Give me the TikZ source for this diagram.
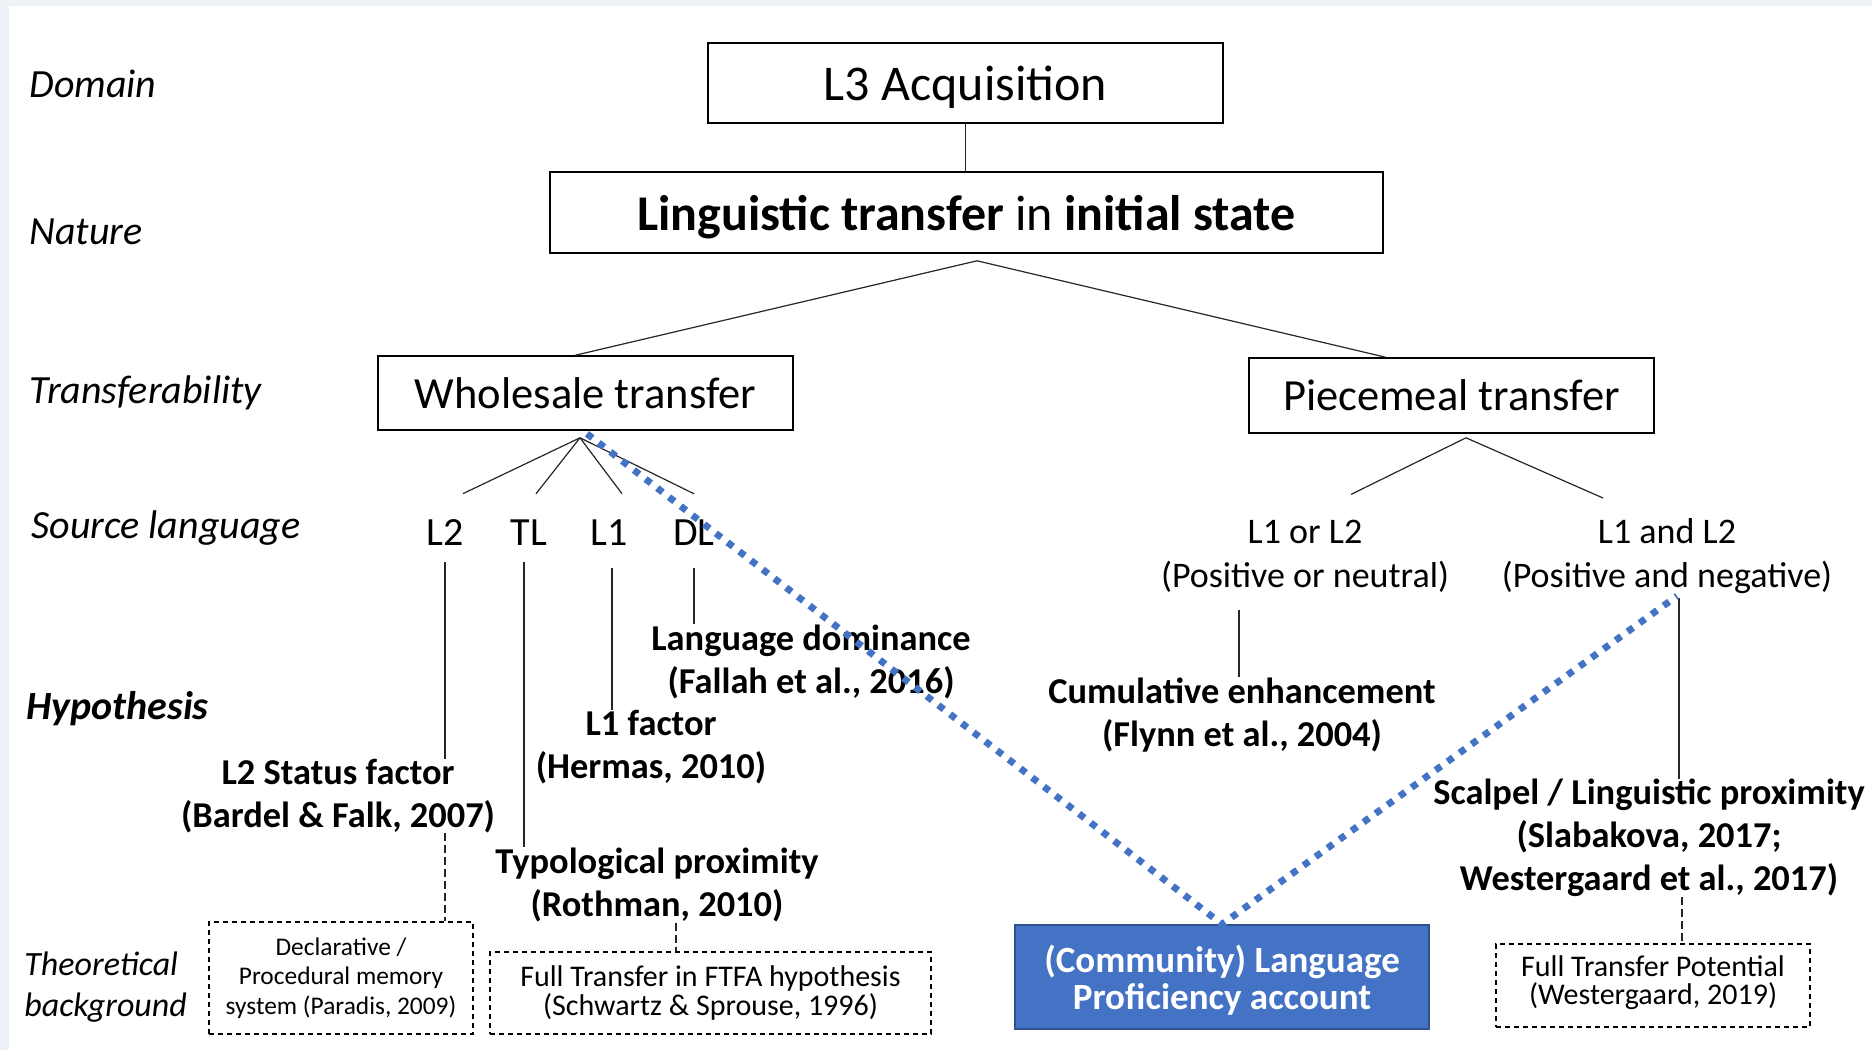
\documentclass[tikz,border=0pt]{standalone}
\usepackage{fontspec}
\setmainfont{Carlito}
\usetikzlibrary{calc}
\definecolor{accblue}{HTML}{4472C4}
\definecolor{accedge}{HTML}{2F528F}
\definecolor{pagegray}{HTML}{EEF2F7}
\tikzset{
  box/.style={draw, line width=0.8pt, inner sep=0pt},
  dbox/.style={draw, line width=0.7pt, dash pattern=on 2.5pt off 2pt, align=center, inner sep=0pt},
  rowlab/.style={anchor=west, inner sep=0pt, align=left, font=\fontsize{20}{20}\selectfont\itshape},
  hyp/.style={align=center, inner sep=0pt, font=\fontsize{18.2}{21.6}\selectfont\bfseries},
  src/.style={inner sep=0pt, font=\fontsize{20}{24}\selectfont},
  pair/.style={align=center, inner sep=0pt, font=\fontsize{18}{22}\selectfont},
  link/.style={line width=0.6pt, black!85},
  dlink/.style={link, dash pattern=on 4pt off 2pt},
  dotlink/.style={accblue, line width=3.4pt, dash pattern=on 3.4pt off 4pt}
}
\begin{document}
\begin{tikzpicture}[x=0.5pt,y=-0.5pt]
  \useasboundingbox (0,0) rectangle (1872,1050);
  \fill[pagegray] (0,0) rectangle (1872,1050);
  \fill[white] (9,6) rectangle (1872,1050);

  % row labels
  \node[rowlab] (rdom) at (29,84) {Domain};
  \node[rowlab] (rnat) at (29,232) {Nature};
  \node[rowlab] (rtra) at (29,393) {Transferability};
  \node[rowlab] (rsrc) at (31,528) {Source language};
  \node[rowlab, font=\fontsize{20}{20}\selectfont\bfseries\itshape] (rhyp) at (26,709) {Hypothesis};
  \node[rowlab, font=\fontsize{17}{20.3}\selectfont\itshape] (rthe) at (24,987) {Theoretical\\background};

  % boxes
  \node[box, text depth=0pt, minimum width=257.5pt, minimum height=40pt, font=\fontsize{25}{30}\selectfont] (acq) at (965.5,83) {L3 Acquisition};
  \node[box, text depth=0pt, minimum width=416.5pt, minimum height=40.5pt, font=\fontsize{25}{30}\selectfont] (nat) at (966.5,212.5) {\textbf{Linguistic transfer} in \textbf{initial state}};
  \node[box, minimum width=207.5pt, minimum height=37pt, font=\fontsize{22.25}{26}\selectfont] (whole) at (585.5,393) {Wholesale transfer};
  \node[box, minimum width=202.5pt, minimum height=37.5pt, font=\fontsize{22.25}{26}\selectfont] (piece) at (1451.5,395.5) {Piecemeal transfer};

  % source languages
  \node[src] (l2) at (445,533) {L2};
  \node[src] (tl) at (529,533) {TL};
  \node[src] (l1) at (609,533) {L1};
  \node[src] (dl) at (694,533) {DL};
  \node[pair] (pn) at (1305,556) {L1 or L2\\(Positive or neutral)};
  \node[pair] (pa) at (1667,556) {L1 and L2\\(Positive and negative)};

  % hypotheses
  \node[hyp] (dom) at (811,662) {Language dominance\\(Fallah et al., 2016)};
  \node[hyp] (l1h) at (651,747) {L1 factor\\(Hermas, 2010)};
  \node[hyp] (l2h) at (338,796) {L2 Status factor\\(Bardel \& Falk, 2007)};
  \node[hyp] (typ) at (657,885) {Typological proximity\\(Rothman, 2010)};
  \node[hyp] (cum) at (1242,715) {Cumulative enhancement\\(Flynn et al., 2004)};
  \node[hyp] (scal) at (1649,838) {Scalpel / Linguistic proximity\\(Slabakova, 2017;\\Westergaard et al., 2017)};

  % theoretical background
  \node[dbox, minimum width=132pt, minimum height=56pt, font=\fontsize{12.7}{14.7}\selectfont] (decl) at (341,978) {Declarative /\\Procedural memory\\system (Paradis, 2009)};
  \node[dbox, minimum width=220.5pt, minimum height=41pt, font=\fontsize{15}{14.5}\selectfont] (ftfa) at (710.5,993) {Full Transfer in FTFA hypothesis\\(Schwartz \& Sprouse, 1996)};
  \node[dbox, text depth=5pt, minimum width=157pt, minimum height=41.5pt, font=\fontsize{15}{14}\selectfont] (ftp) at (1653,985.5) {Full Transfer Potential\\(Westergaard, 2019)};
  \node[draw=accedge, fill=accblue, line width=0.8pt, text=white, align=center, inner sep=0pt, text depth=0pt,
        minimum width=207pt, minimum height=52pt, font=\fontsize{18.5}{18.5}\selectfont\bfseries] (comm) at (1222,977) {(Community) Language\\Proficiency account};

  % tree
  \draw[link] (acq.south) -- (acq.south |- nat.north);
  \coordinate (natapex) at ([xshift=5.25pt, yshift=-3.5pt]nat.south);
  \draw[link] ([xshift=-5pt]whole.north) -- (natapex) -- ([xshift=-33pt]piece.north);

  \coordinate (wapex) at ([xshift=-2.75pt, yshift=-3.5pt]whole.south);
  \foreach \n/\dx in {l2/9, tl/3.5, l1/6.5, dl/0}
    \draw[link] (wapex) -- ([xshift=\dx pt, yshift=13pt]\n.north);

  \coordinate (papex) at ([xshift=7.25pt, yshift=-2pt]piece.south);
  \draw[link] ([xshift=23pt, yshift=12.5pt]pn.north) -- (papex) -- ([xshift=-32pt, yshift=10pt]pa.north);

  % source to hypothesis
  \draw[link] ([yshift=-8pt]l2.south) -- (l2.south |- l2h.north);
  \draw[link] ([xshift=-2.5pt, yshift=-8pt]tl.south) -- ([xshift=-2.5pt]tl.south |- typ.north);
  \draw[link] ([xshift=1.5pt, yshift=-11pt]l1.south) -- ([xshift=1.5pt]l1.south |- l1h.north);
  \draw[link] ([yshift=-11pt]dl.south) -- (dl.south |- dom.north);
  \draw[link] ([xshift=-1.5pt, yshift=-8.5pt]cum.north |- pn.south) -- ([xshift=-1.5pt]cum.north);
  \draw[link] ([xshift=6pt, yshift=-2pt]pa.south) -- ([xshift=6pt]pa.south |- scal.north);

  % hypothesis to background
  \draw[dlink] (l2.south |- l2h.south) -- (l2.south |- decl.north);
  \draw[dlink] ([xshift=9.5pt]typ.south) -- ([xshift=9.5pt]typ.south |- ftfa.north);
  \draw[dlink] ([xshift=16.5pt]scal.south) -- ([xshift=16.5pt]scal.south |- ftp.north);

  % proficiency account
  \draw[dotlink] ([xshift=0.75pt, yshift=-1.5pt]whole.south) -- (comm.north) -- ([xshift=5pt, yshift=-1pt]pa.south);
\end{tikzpicture}
\end{document}
